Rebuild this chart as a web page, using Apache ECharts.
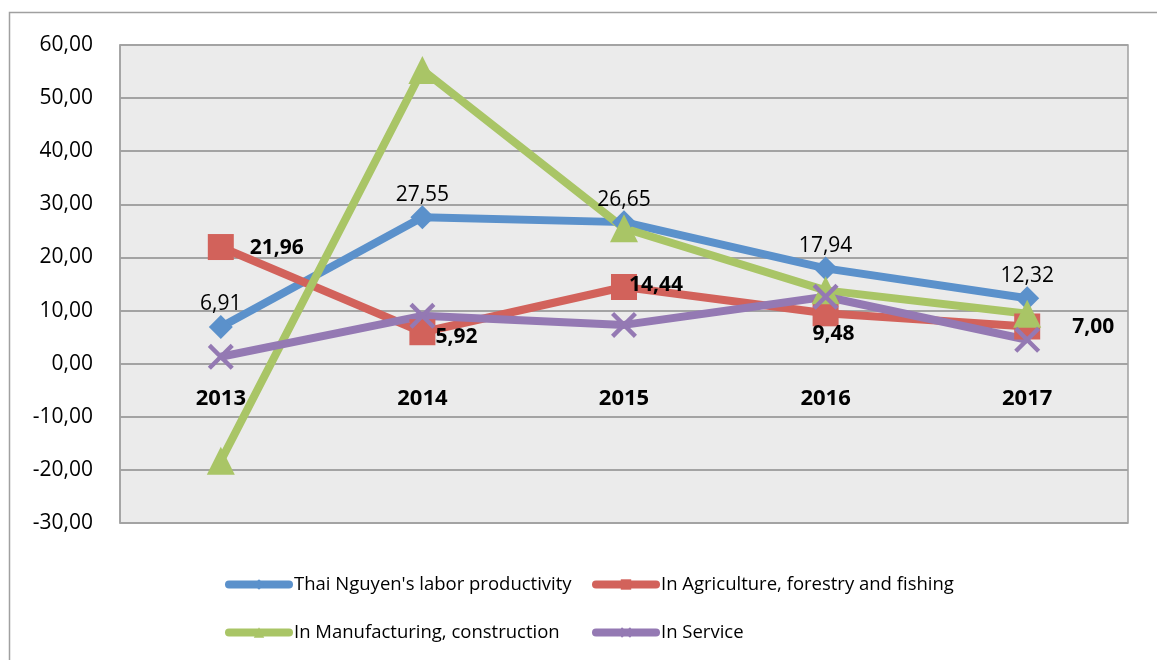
<!DOCTYPE html>
<html>
<head>
<meta charset="utf-8">
<script src="https://cdn.jsdelivr.net/npm/echarts@6/dist/echarts.min.js"></script>
<style>
html,body{margin:0;padding:0;background:#fff;}
#main{width:1157px;height:660px;}
</style>
</head>
<body>
<div id="main"></div>
<script>
// ---- data ----
var years = ['2013', '2014', '2015', '2016', '2017'];
var seriesNames = ["Thai Nguyen's labor productivity", 'In Agriculture, forestry and fishing', 'In Manufacturing, construction', 'In Service'];
var laborProductivity = [6.91, 27.55, 26.65, 17.94, 12.32];
var agriculture = [21.96, 5.92, 14.44, 9.48, 7.00];
var manufacturing = [-18.3, 55.3, 25.5, 13.8, 9.4];
var service = [1.3, 9.0, 7.3, 12.6, 4.5];
var yTicks = {min: -30, max: 60, interval: 10};

// ---- styles ----
var FONT = 'Open Sans';
var colors = ['#5b91cb', '#d2625b', '#a9c566', '#9479b3'];
var xSymbol = 'path://M0,1.2 L1.2,0 L10,8.8 L8.8,10 Z M8.8,0 L10,1.2 L1.2,10 L0,8.8 Z';
function fmt(v) { return v.toFixed(2).replace('.', ','); }

var GRID = {left: 120, right: 29, top: 45, bottom: 137};
var plotH = 660 - GRID.top - GRID.bottom;
// distance of the zero line from the plot bottom, computed from the value scale
var zeroFromBottom = plotH * (0 - yTicks.min) / (yTicks.max - yTicks.min);

// label placement of the bold agriculture labels (style only)
var agriLabelStyle = [
  {position: 'right', distance: 16, offset: [0, 1]},
  {position: 'right', distance: 0, offset: [0, 5]},
  {position: 'right', distance: -8, offset: [0, -2]},
  {position: 'bottom', distance: -3, offset: [8, 0]},
  {position: 'right', distance: 32, offset: [0, 1]}
];

var chart = echarts.init(document.getElementById('main'));

function legendFor(name, left, top) {
  return {
    data: [name], left: left, top: top, itemWidth: 60, itemHeight: 13,
    textStyle: {fontFamily: FONT, fontSize: 18.5, color: '#000'},
    lineStyle: {width: 8, cap: 'round'},
    itemGap: 0, padding: 0
  };
}

var option = {
  animation: false,
  backgroundColor: '#fff',
  color: colors,
  graphic: [{
    type: 'rect', left: 7, top: 10, silent: true,
    shape: {width: 1200, height: 700},
    style: {fill: 'none', stroke: '#a0a0a0', lineWidth: 1.5}
  }],
  legend: [
    legendFor(seriesNames[0], 225, 575),
    legendFor(seriesNames[1], 592, 575),
    legendFor(seriesNames[2], 225, 623),
    legendFor(seriesNames[3], 592, 623)
  ],
  grid: {
    left: GRID.left, right: GRID.right, top: GRID.top, bottom: GRID.bottom,
    show: true, backgroundColor: '#ebebeb', borderColor: '#a0a0a0', borderWidth: 1.5
  },
  xAxis: {
    type: 'category', data: years, boundaryGap: true,
    offset: -zeroFromBottom,
    axisLine: {show: false, onZero: false},
    axisTick: {show: false},
    axisLabel: {fontFamily: FONT, fontSize: 22, fontWeight: 'bold', color: '#000', margin: 24}
  },
  yAxis: {
    type: 'value', min: yTicks.min, max: yTicks.max, interval: yTicks.interval,
    axisLine: {show: true, lineStyle: {color: '#a0a0a0', width: 1.5}},
    axisTick: {show: false},
    splitLine: {show: true, lineStyle: {color: '#a3a3a3', width: 2}},
    axisLabel: {fontFamily: FONT, fontSize: 21, color: '#000', margin: 27, formatter: function (v) { return fmt(v); }}
  },
  series: [
    {
      name: seriesNames[0], type: 'line', data: laborProductivity,
      symbol: 'diamond', symbolSize: 24,
      lineStyle: {width: 8, color: colors[0]}, itemStyle: {color: colors[0]},
      label: {show: true, position: 'top', distance: 0, fontFamily: FONT, fontSize: 21, color: '#000',
        formatter: function (p) { return fmt(p.value); }}
    },
    {
      name: seriesNames[1], type: 'line',
      data: agriculture.map(function (v, i) { return {value: v, label: agriLabelStyle[i]}; }),
      symbol: 'rect', symbolSize: 26,
      lineStyle: {width: 8, color: colors[1]}, itemStyle: {color: colors[1]},
      label: {show: true, fontFamily: FONT, fontSize: 21, fontWeight: 'bold', color: '#000',
        formatter: function (p) { return fmt(p.value); }}
    },
    {
      name: seriesNames[2], type: 'line', data: manufacturing,
      symbol: 'triangle', symbolSize: 28,
      lineStyle: {width: 8, color: colors[2]}, itemStyle: {color: colors[2]}
    },
    {
      name: seriesNames[3], type: 'line', data: service,
      symbol: xSymbol, symbolSize: 26,
      lineStyle: {width: 8, color: colors[3]}, itemStyle: {color: colors[3]}
    }
  ]
};
chart.setOption(option);
</script>
</body>
</html>
